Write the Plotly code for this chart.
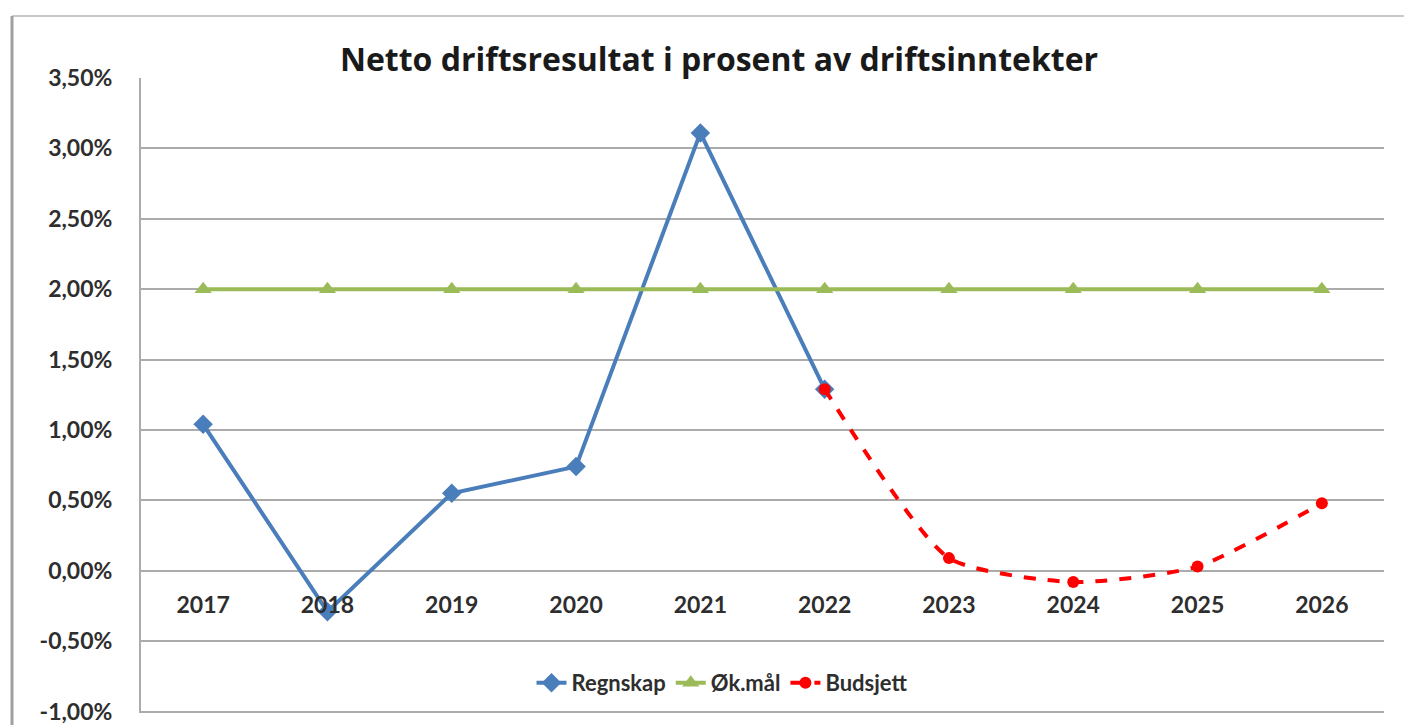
import plotly.graph_objects as go

years = ["2017", "2018", "2019", "2020", "2021", "2022", "2023", "2024", "2025", "2026"]
regnskap_years = ["2017", "2018", "2019", "2020", "2021", "2022"]
regnskap = [1.04, -0.29, 0.55, 0.74, 3.11, 1.29]
okmal = [2.0, 2.0, 2.0, 2.0, 2.0, 2.0, 2.0, 2.0, 2.0, 2.0]
budsjett_years = ["2022", "2023", "2024", "2025", "2026"]
budsjett = [1.29, 0.09, -0.08, 0.03, 0.48]
y_ticks = [-1.0, -0.5, 0.0, 0.5, 1.0, 1.5, 2.0, 2.5, 3.0, 3.5]
y_tick_labels = ["-1,00%", "-0,50%", "0,00%", "0,50%", "1,00%", "1,50%",
                 "2,00%", "2,50%", "3,00%", "3,50%"]

FONT = "Lato"
TXT = "#2e2e2e"

fig = go.Figure()
fig.add_trace(go.Scatter(
    x=regnskap_years, y=regnskap, name="Regnskap", mode="lines+markers",
    line=dict(color="#4A7EBB", width=4),
    marker=dict(symbol="diamond", size=15, color="#4A7EBB"),
))
fig.add_trace(go.Scatter(
    x=years, y=okmal, name="Øk.mål", mode="lines+markers",
    line=dict(color="#9BBB59", width=4),
    marker=dict(symbol="triangle-up", size=15, color="#9BBB59"),
))
fig.add_trace(go.Scatter(
    x=budsjett_years, y=budsjett, name="Budsjett", mode="lines+markers",
    line=dict(color="#FF0000", width=4, dash="dash", shape="spline", smoothing=0.6),
    marker=dict(symbol="circle", size=12, color="#FF0000"),
))

ymin, ymax = -1.01, 3.5
fig.update_layout(
    width=1404, height=725,
    margin=dict(l=141, r=20, t=78, b=12, autoexpand=False),
    paper_bgcolor="white", plot_bgcolor="white",
    title=dict(text="<b>Netto driftsresultat i prosent av driftsinntekter</b>",
               x=(719 - 141) / 1243, xref="paper", xanchor="center",
               y=1 - 60 / 725, yanchor="middle",
               font=dict(family="Open Sans", size=32, color="#1a1a1a")),
    xaxis=dict(
        type="category", categoryorder="array", categoryarray=years,
        range=[-0.5, len(years) - 0.5], automargin=False,
        anchor="free", position=(0 - ymin) / (ymax - ymin),
        showgrid=False, showline=False, zeroline=False,
        ticks="outside", ticklen=14, tickcolor="rgba(0,0,0,0)",
        tickfont=dict(family=FONT, size=23, color=TXT, weight="bold"),
    ),
    yaxis=dict(
        range=[ymin, ymax], tickvals=y_ticks, ticktext=y_tick_labels,
        automargin=False, ticklabeloverflow="allow",
        showgrid=True, gridcolor="#ababab", gridwidth=2,
        zeroline=False, showline=True, linecolor="#ababab", linewidth=2,
        ticks="outside", ticklen=22, tickcolor="rgba(0,0,0,0)",
        tickfont=dict(family=FONT, size=23, color=TXT, weight="bold"),
    ),
    legend=dict(
        orientation="h", x=(722 - 141) / 1243, xanchor="center",
        y=(713 - 683) / 635, yanchor="middle",
        bgcolor="white", font=dict(family=FONT, size=22, color=TXT, weight="bold"),
        tracegroupgap=0,
    ),
    showlegend=True,
)

# chart border (left and top)
fig.add_shape(type="line", xref="paper", yref="paper",
              x0=(12 - 141) / 1243, x1=(1404 - 141) / 1243,
              y0=1 + (78 - 16) / 635, y1=1 + (78 - 16) / 635,
              line=dict(color="#c8c8c8", width=2))
fig.add_shape(type="line", xref="paper", yref="paper",
              x0=(12 - 141) / 1243, x1=(12 - 141) / 1243,
              y0=1 + (78 - 16) / 635, y1=-(725 - 713) / 635,
              line=dict(color="#a0a0a0", width=3))

fig.write_html("out.html", config={"displayModeBar": False},
               post_script="document.body.style.margin='0';document.body.style.overflow='hidden';")
